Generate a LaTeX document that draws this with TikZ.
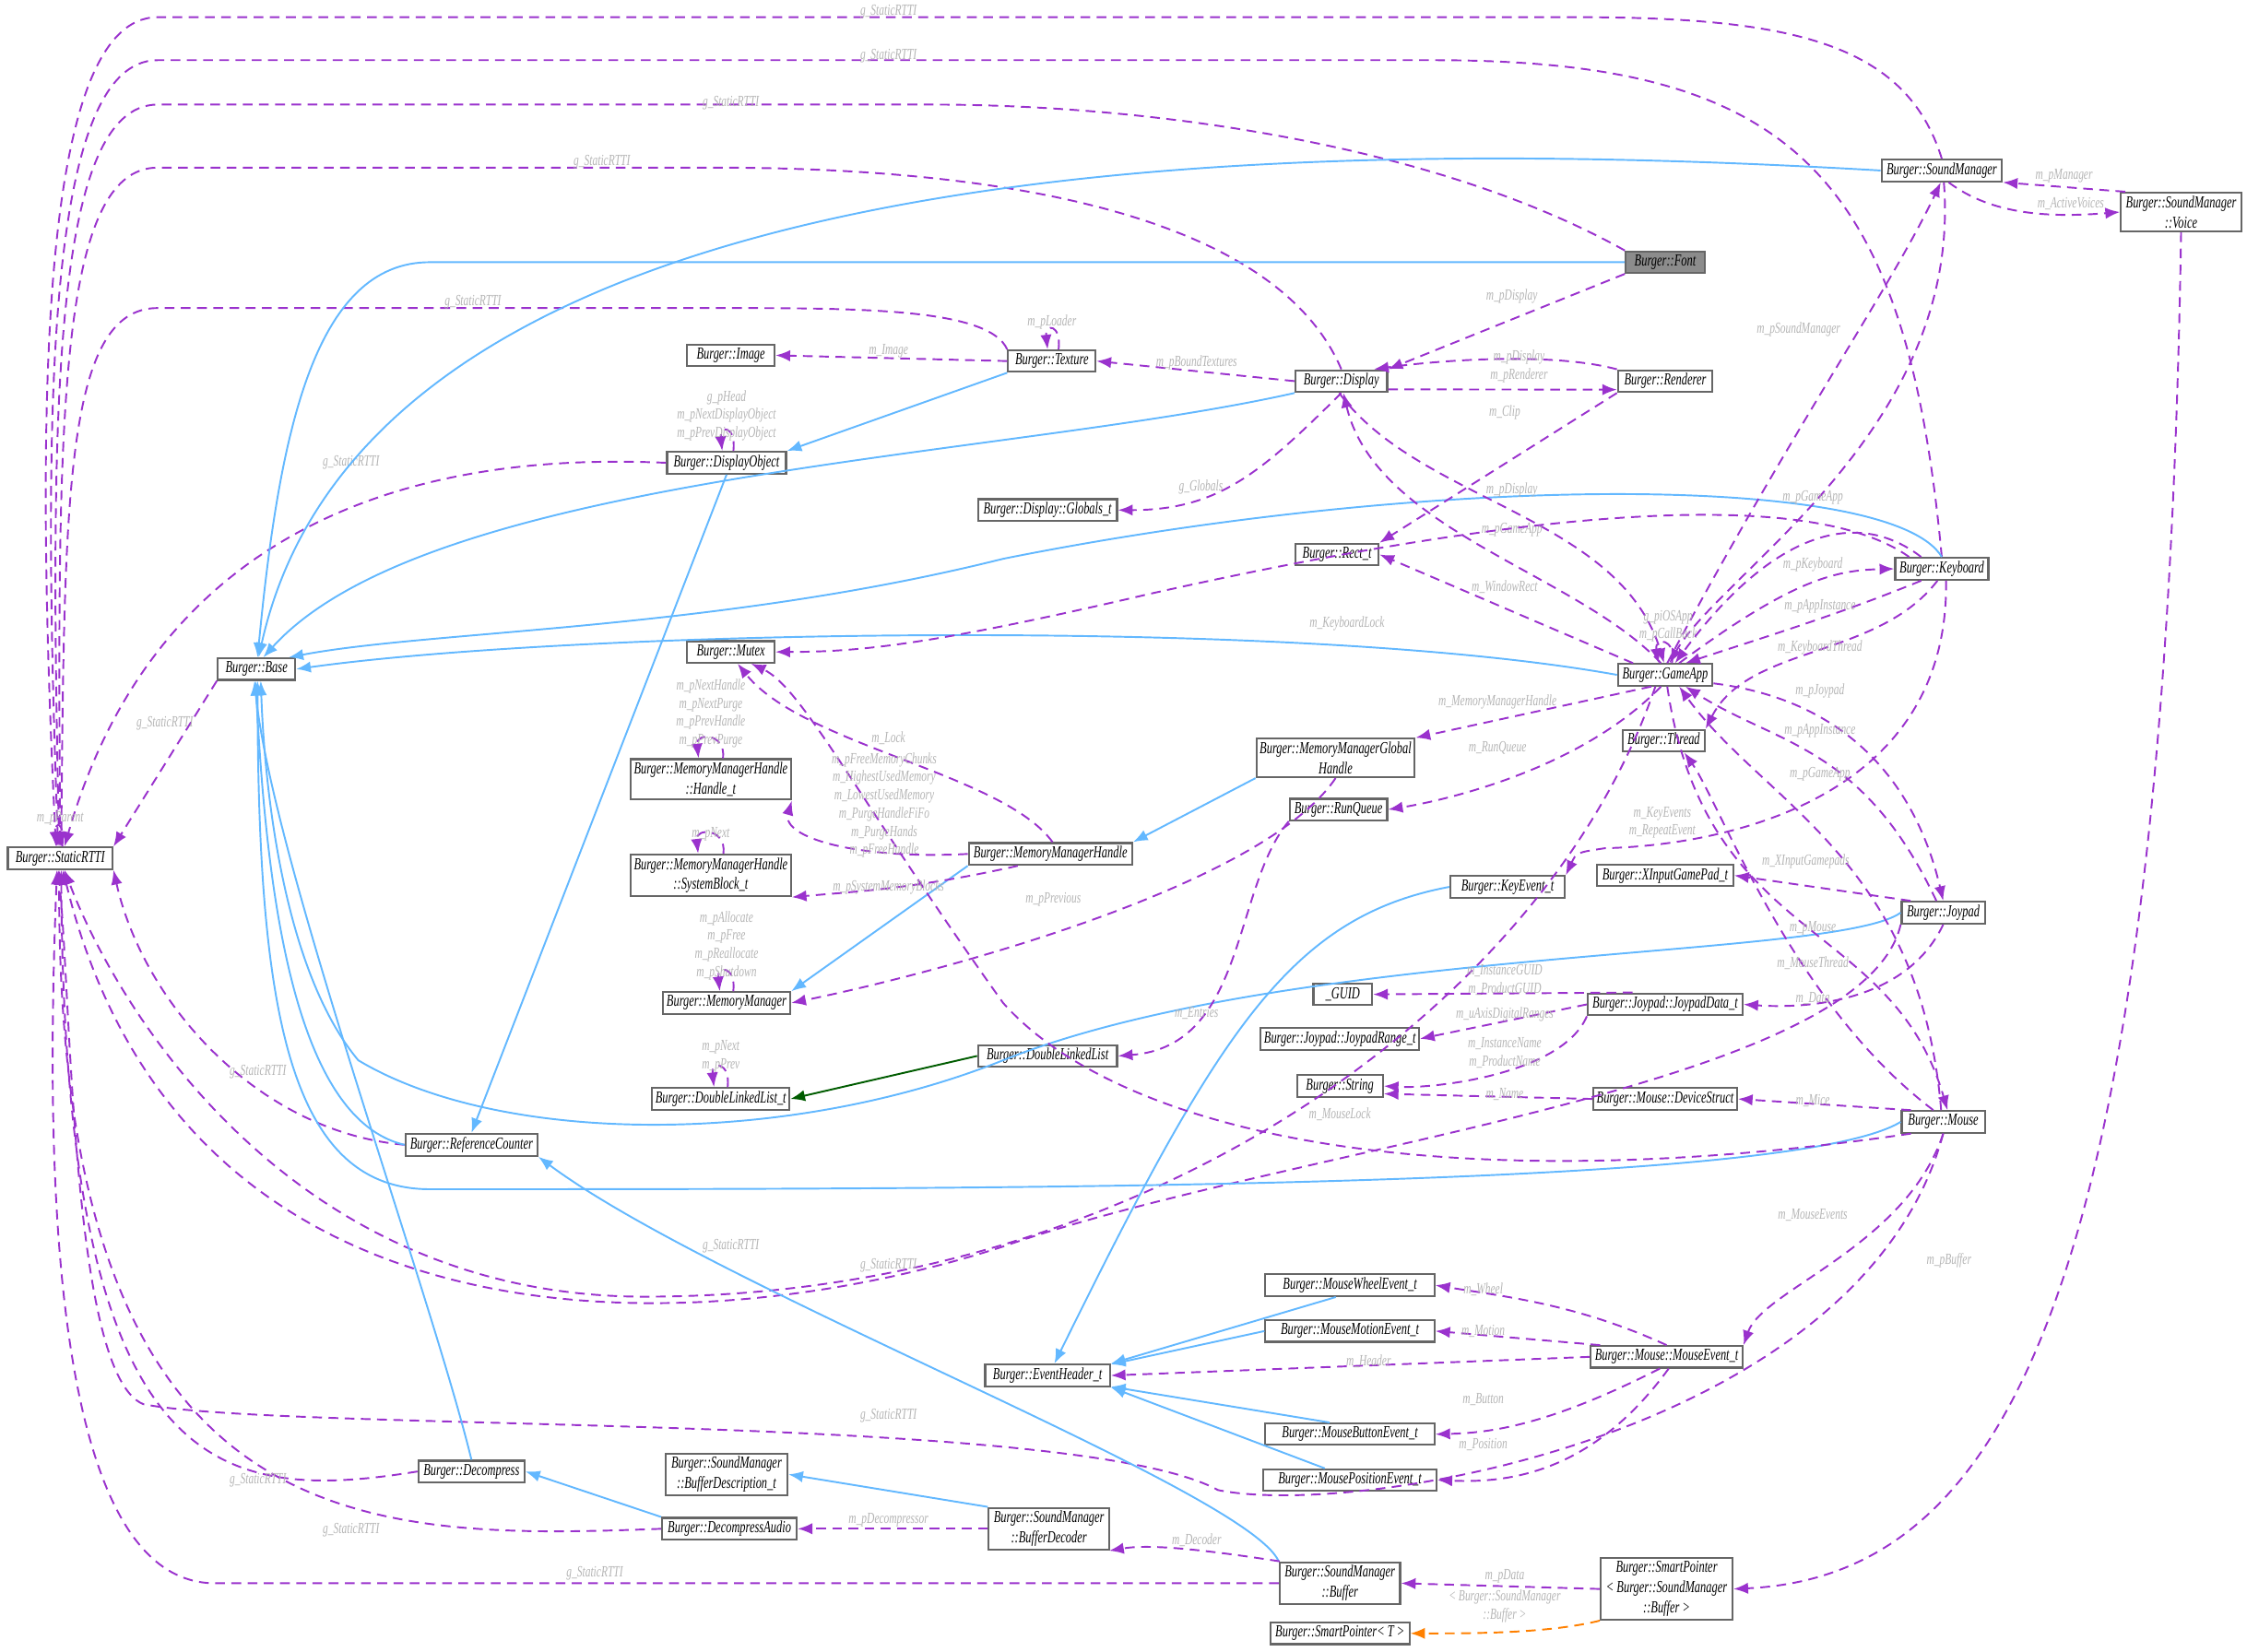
\documentclass[tikz,border=0pt]{standalone}
\usepackage{fontspec}
\setmainfont{Liberation Serif}[FakeStretch=0.68]
\usetikzlibrary{arrows.meta}
\definecolor{pp}{HTML}{9A32CD}
\definecolor{bl}{HTML}{63B8FF}
\definecolor{lg}{HTML}{B4B4B4}
\begin{document}
\begin{tikzpicture}[x=0.01554cm,y=-0.01554cm,
 cls/.style={draw=black!60,line width=0.6pt,fill=white,font=\fontsize{5.2}{6.2}\selectfont\itshape,inner sep=1pt,minimum height=15*0.01554cm,align=center},
 lbl/.style={font=\fontsize{4.8}{5.6}\selectfont\itshape,text=lg,inner sep=0pt,align=center},
 pe/.style={draw=pp,dashed,dash pattern=on 3pt off 2pt,line width=0.55pt,-{Latex[length=4.5pt,width=3.5pt]}},
 be/.style={draw=bl,line width=0.55pt,-{Latex[length=4.5pt,width=3.5pt]}},
 ge/.style={draw=black!40!green!60!black,line width=0.55pt,-{Latex[length=4.5pt,width=3.5pt]}},
 oe/.style={draw=orange,dashed,dash pattern=on 3pt off 2pt,line width=0.55pt,-{Latex[length=4.5pt,width=3.5pt]}}]
\newcommand\cls[5]{\node[cls,minimum width=#4*0.01554cm] (#1) at (#2,#3) {#5};}
\newcommand\lb[4]{\node[lbl] (#1) at (#2,#3) {#4};}
\useasboundingbox (0,0) rectangle (1568,1153);
% ---- nodes
\cls{st}{42}{599}{73}{Burger::StaticRTTI}
\cls{base}{179}{467}{54}{Burger::Base}
\node[cls,minimum width=55*0.01554cm,fill=black!45] (font) at (1162,183) {Burger::Font};
\cls{sm}{1355}{119}{84}{Burger::SoundManager}
\node[cls,minimum width=84*0.01554cm,minimum height=27*0.01554cm] (voice) at (1522,148) {Burger::SoundManager\\::Voice};
\cls{img}{510}{248}{61}{Burger::Image}
\cls{tex}{734}{252}{61}{Burger::Texture}
\cls{disp}{936}{266}{64}{Burger::Display}
\cls{rend}{1162}{266}{66}{Burger::Renderer}
\cls{dobj}{507}{323}{83}{Burger::DisplayObject}
\cls{glob}{731}{356}{97}{Burger::Display::Globals\_t}
\cls{rect}{933}{387}{58}{Burger::Rect\_t}
\cls{kb}{1355}{397}{65}{Burger::Keyboard}
\cls{mutex}{510}{455}{61}{Burger::Mutex}
\cls{ga}{1162}{471}{66}{Burger::GameApp}
\node[cls,minimum width=88*0.01554cm,minimum height=26*0.01554cm] (ht) at (496,544) {Burger::MemoryManagerHandle\\::Handle\_t};
\node[cls,minimum width=104*0.01554cm,minimum height=26*0.01554cm] (mmg) at (932,529) {Burger::MemoryManagerGlobal\\Handle};
\cls{thr}{1161}{517}{57}{Burger::Thread}
\cls{rq}{934}{565}{68}{Burger::RunQueue}
\node[cls,minimum width=88*0.01554cm,minimum height=26*0.01554cm] (sb) at (496,611) {Burger::MemoryManagerHandle\\::SystemBlock\_t};
\cls{mmh}{733}{596}{114}{Burger::MemoryManagerHandle}
\cls{ke}{1052}{619}{80}{Burger::KeyEvent\_t}
\cls{xi}{1162}{611}{95}{Burger::XInputGamePad\_t}
\cls{jp}{1356}{637}{58}{Burger::Joypad}
\cls{mm}{507}{700}{89}{Burger::MemoryManager}
\cls{guid}{937}{694}{41}{\_GUID}
\cls{jd}{1162}{701}{108}{Burger::Joypad::JoypadData\_t}
\cls{jr}{935}{725}{110}{Burger::Joypad::JoypadRange\_t}
\cls{dll}{731}{737}{97}{Burger::DoubleLinkedList}
\cls{str}{935}{758}{60}{Burger::String}
\cls{dlt}{503}{767}{94}{Burger::DoubleLinkedList\_t}
\cls{ds}{1162}{767}{100}{Burger::Mouse::DeviceStruct}
\cls{rc}{329}{799}{92}{Burger::ReferenceCounter}
\cls{ms}{1356}{783}{58}{Burger::Mouse}
\cls{mw}{942}{897}{118}{Burger::MouseWheelEvent\_t}
\cls{mmo}{942}{929}{118}{Burger::MouseMotionEvent\_t}
\cls{me}{1163}{947}{106}{Burger::Mouse::MouseEvent\_t}
\cls{eh}{731}{960}{87}{Burger::EventHeader\_t}
\cls{mb}{942}{1001}{118}{Burger::MouseButtonEvent\_t}
\cls{mp}{942}{1033}{121}{Burger::MousePositionEvent\_t}
\cls{dc}{329}{1027}{74}{Burger::Decompress}
\node[cls,minimum width=85*0.01554cm,minimum height=26*0.01554cm] (bdesc) at (507,1029) {Burger::SoundManager\\::BufferDescription\_t};
\cls{da}{509}{1067}{94}{Burger::DecompressAudio}
\node[cls,minimum width=84*0.01554cm,minimum height=26*0.01554cm] (bdec) at (732,1067) {Burger::SoundManager\\::BufferDecoder};
\node[cls,minimum width=84*0.01554cm,minimum height=26*0.01554cm] (buf) at (935,1105) {Burger::SoundManager\\::Buffer};
\node[cls,minimum width=92*0.01554cm,minimum height=35*0.01554cm] (spb) at (1163,1109) {Burger::SmartPointer\\{}< Burger::SoundManager\\::Buffer >};
\cls{spt}{935}{1140}{97}{Burger::SmartPointer< T >}
% ---- g_StaticRTTI edges (top)
\draw[pe] (sm.north) .. controls (1330,30) and (1250,12) .. (1100,12) -- (110,12) .. controls (25,12) and (25,300) .. (st.110);
\draw[pe] (kb.north) .. controls (1330,120) and (1250,42) .. (1000,42) -- (110,42) .. controls (30,42) and (30,300) .. (st.100);
\draw[pe] (font.north west) .. controls (1000,100) and (800,73) .. (650,73) -- (110,73) .. controls (35,73) and (35,300) .. (st.95);
\draw[pe] (disp.north) .. controls (890,150) and (700,117) .. (500,117) -- (110,117) .. controls (40,117) and (40,300) .. (st.90);
\draw[pe] (tex.north west) .. controls (690,215) and (600,215) .. (500,215) -- (110,215) .. controls (45,215) and (45,350) .. (st.85);
\draw[pe] (dobj.west) .. controls (350,318) and (120,330) .. (st.70);
\draw[pe] (base.south west) -- (st.north east);
\draw[pe] (st.80) .. controls +(2,-18) and +(-2,-18) .. (st.105);
\lb{l1}{620}{8}{g\_StaticRTTI} \lb{l2}{620}{39}{g\_StaticRTTI} \lb{l3}{510}{72}{g\_StaticRTTI}
\lb{l4}{420}{113}{g\_StaticRTTI} \lb{l5}{330}{211}{g\_StaticRTTI} \lb{l6}{245}{323}{g\_StaticRTTI}
\lb{l7}{115}{505}{g\_StaticRTTI} \lb{l8}{42}{571}{m\_pParent}
% ---- g_StaticRTTI edges (bottom)
\draw[pe] (rc.west) .. controls (180,790) and (100,700) .. (st.south east);
\draw[pe] (dc.west) .. controls (150,1050) and (45,1030) .. (st.275);
\draw[pe] (da.west) .. controls (250,1075) and (40,1075) .. (st.265);
\draw[pe] (buf.west) -- (150,1105) .. controls (32,1105) and (32,800) .. (st.255);
\draw[pe] (ga.230) .. controls (1080,700) and (800,905) .. (450,905) .. controls (200,905) and (80,700) .. (st.290);
\draw[pe] (jp.south west) .. controls (1300,760) and (900,800) .. (700,870) .. controls (500,935) and (130,960) .. (st.283);
\draw[pe] (ms.south) .. controls (1300,1000) and (950,1060) .. (850,1040) .. controls (750,985) and (200,1000) .. (100,980) .. controls (50,960) and (50,700) .. (st.260);
\lb{l9}{180}{748}{g\_StaticRTTI} \lb{l10}{180}{1033}{g\_StaticRTTI} \lb{l11}{245}{1068}{g\_StaticRTTI}
\lb{l12}{415}{1098}{g\_StaticRTTI} \lb{l13}{510}{870}{g\_StaticRTTI} \lb{l14}{620}{883}{g\_StaticRTTI}
\lb{l15}{620}{988}{g\_StaticRTTI}
% ---- blue inheritance
\draw[be] (sm.west) .. controls (900,95) and (260,100) .. (base.80);
\draw[be] (font.west) -- (300,183) .. controls (220,183) and (195,300) .. (base.85);
\draw[be] (disp.south west) .. controls (700,320) and (300,330) .. (base.60);
\draw[be] (kb.north) .. controls (1320,330) and (1000,330) .. (700,390) .. controls (500,440) and (300,440) .. (base.20);
\draw[be] (ga.west) .. controls (900,430) and (400,440) .. (base.east);
\draw[be] (jp.west) .. controls (1280,670) and (900,660) .. (700,740) .. controls (550,800) and (350,800) .. (250,740) .. controls (200,680) and (185,560) .. (base.290);
\draw[be] (ms.west) .. controls (1250,830) and (700,830) .. (300,830) .. controls (200,830) and (180,700) .. (base.275);
\draw[be] (rc.west) .. controls (200,780) and (185,600) .. (base.265);
\draw[be] (dc.north) .. controls (300,900) and (190,600) .. (base.260);
\draw[be] (tex.south west) -- (dobj.north east);
\draw[be] (dobj.south) -- (rc.north);
\draw[be] (ke.west) .. controls (900,640) and (850,720) .. (eh.60);
\draw[be] (mw.220) -- (eh.north east);
\draw[be] (mmo.west) -- (eh.10);
\draw[be] (mb.150) -- (eh.-10);
\draw[be] (mp.155) -- (eh.south east);
\draw[be] (mmg.south west) -- (mmh.north east);
\draw[be] (mmh.south west) -- (mm.north east);
\draw[be] (da.north west) -- (dc.east);
\draw[be] (bdec.north west) -- (bdesc.east);
\draw[be] (buf.north west) .. controls (870,1040) and (500,900) .. (rc.south east);
\draw[ge] (dll.west) -- (dlt.east);
\draw[oe] (spb.south west) .. controls (1080,1140) and (1030,1140) .. (spt.east);
\node[lbl] (l16) at (1050,1121) {< Burger::SoundManager\\::Buffer >};
% ---- purple members
\draw[pe] (voice.160) -- (sm.south east) node[lbl,pos=0.5,above,inner sep=1pt] (l17) {m\_pManager};
\draw[pe] (sm.300) .. controls (1390,150) and (1430,152) .. (voice.west);
\lb{l18}{1445}{142}{m\_ActiveVoices}
\draw[pe] (voice.south) .. controls (1510,900) and (1400,1100) .. (spb.east);
\lb{l19}{1360}{880}{m\_pBuffer}
\draw[pe] (font.south west) -- (disp.north east); \lb{l20}{1055}{207}{m\_pDisplay}
\draw[pe] (rend.north west) .. controls (1080,245) and (1000,252) .. (disp.20); \lb{l21}{1060}{249}{m\_pDisplay}
\draw[pe] (disp.-10) -- (rend.-170); \lb{l22}{1060}{262}{m\_pRenderer}
\draw[pe] (tex.60) .. controls +(2,-18) and +(-2,-18) .. (tex.110); \lb{l23}{734}{225}{m\_pLoader}
\draw[pe] (tex.west) -- (img.east); \lb{l24}{620}{245}{m\_Image}
\draw[pe] (disp.west) -- (tex.east); \lb{l25}{835}{253}{m\_pBoundTextures}
\draw[pe] (dobj.60) .. controls +(2,-18) and +(-2,-18) .. (dobj.110);
\node[lbl] (l26) at (507,290) {g\_pHead\\m\_pNextDisplayObject\\m\_pPrevDisplayObject};
\draw[pe] (disp.south) .. controls (880,330) and (850,356) .. (glob.east); \lb{l27}{838}{340}{g\_Globals}
\draw[pe] (rend.south west) -- (rect.north east); \lb{l28}{1050}{288}{m\_Clip}
\draw[pe] (ga.110) .. controls (1100,400) and (960,370) .. (disp.-80); \lb{l29}{1055}{342}{m\_pDisplay}
\draw[pe] (disp.-100) .. controls (990,350) and (1130,360) .. (ga.95); \lb{l30}{1055}{370}{m\_pGameApp}
\draw[pe] (ga.160) -- (rect.east); \lb{l31}{1050}{410}{m\_WindowRect}
\draw[pe] (ga.80) .. controls (1250,300) and (1320,200) .. (sm.265); \lb{l32}{1255}{230}{m\_pSoundManager}
\draw[pe] (sm.280) .. controls (1370,300) and (1200,400) .. (ga.70);
\draw[pe] (ga.60) .. controls +(3,-18) and +(-3,-18) .. (ga.120); \node[lbl] (l33) at (1164,437) {g\_piOSApp\\m\_pCallBack};
\draw[pe] (kb.160) .. controls (1250,330) and (1000,370) .. (800,415) .. controls (650,450) and (600,455) .. (mutex.east); \lb{l34}{940}{435}{m\_KeyboardLock}
\draw[pe] (kb.150) .. controls (1290,350) and (1230,380) .. (ga.50); \lb{l35}{1265}{347}{m\_pGameApp}
\draw[pe] (ga.40) .. controls (1250,405) and (1280,398) .. (kb.west); \lb{l36}{1265}{394}{m\_pKeyboard}
\draw[pe] (kb.210) .. controls (1280,430) and (1230,445) .. (ga.30); \lb{l37}{1270}{423}{m\_pAppInstance}
\draw[pe] (kb.250) .. controls (1310,460) and (1220,450) .. (thr.north east); \lb{l38}{1270}{452}{m\_KeyboardThread}
\draw[pe] (kb.290) .. controls (1360,560) and (1200,590) .. (1120,592) .. controls (1100,595) .. (ke.north east); \node[lbl] (l39) at (1160,574) {m\_KeyEvents\\m\_RepeatEvent};
\draw[pe] (ga.220) -- (mmg.north east); \lb{l40}{1045}{490}{m\_MemoryManagerHandle}
\draw[pe] (ga.250) .. controls (1100,540) and (1000,560) .. (rq.east); \lb{l41}{1045}{522}{m\_RunQueue}
\draw[pe] (ga.-10) .. controls (1300,490) and (1340,560) .. (jp.north); \lb{l42}{1270}{482}{m\_pJoypad}
\draw[pe] (jp.120) .. controls (1300,520) and (1240,520) .. (ga.-30); \lb{l43}{1270}{510}{m\_pAppInstance}
\draw[pe] (ms.100) .. controls (1340,600) and (1230,560) .. (ga.-40); \lb{l44}{1270}{540}{m\_pGameApp}
\draw[pe] (ga.-80) .. controls (1190,660) and (1320,640) .. (ms.70); \lb{l45}{1265}{648}{m\_pMouse}
\draw[pe] (ms.130) .. controls (1250,700) and (1200,560) .. (thr.-30); \lb{l46}{1265}{672}{m\_MouseThread}
\draw[pe] (jp.160) -- (xi.east); \lb{l47}{1260}{601}{m\_XInputGamepads}
\draw[pe] (jp.south) .. controls (1330,700) and (1260,704) .. (jd.east); \lb{l48}{1265}{697}{m\_Data}
\draw[pe] (jd.160) -- (guid.east); \node[lbl] (l49) at (1050,684) {m\_InstanceGUID\\m\_ProductGUID};
\draw[pe] (jd.west) -- (jr.east); \lb{l50}{1050}{708}{m\_uAxisDigitalRanges};
\draw[pe] (jd.south west) .. controls (1090,750) and (1000,760) .. (str.east); \node[lbl] (l51) at (1050,735) {m\_InstanceName\\m\_ProductName};
\draw[pe] (ds.west) -- (str.-10); \lb{l52}{1050}{764}{m\_Name}
\draw[pe] (ms.160) -- (ds.east); \lb{l53}{1265}{768}{m\_Mice}
\draw[pe] (ms.200) .. controls (1000,840) and (780,790) .. (700,700) .. controls (600,560) and (560,480) .. (mutex.-30); \lb{l54}{935}{778}{m\_MouseLock}
\draw[pe] (mmh.80) .. controls (700,540) and (560,520) .. (mutex.-60); \lb{l55}{620}{515}{m\_Lock}
\draw[pe] (ht.60) .. controls +(2,-18) and +(-2,-18) .. (ht.120); \node[lbl] (l56) at (496,498) {m\_pNextHandle\\m\_pNextPurge\\m\_pPrevHandle\\m\_pPrevPurge};
\draw[pe] (mmh.west) .. controls (600,600) and (545,585) .. (ht.south east); \node[lbl] (l57) at (617,562) {m\_pFreeMemoryChunks\\m\_HighestUsedMemory\\m\_LowestUsedMemory\\m\_PurgeHandleFiFo\\m\_PurgeHands\\m\_pFreeHandle};
\draw[pe] (sb.60) .. controls +(2,-18) and +(-2,-18) .. (sb.120); \lb{l58}{496}{582}{m\_pNext}
\draw[pe] (mmh.200) .. controls (640,620) and (600,622) .. (sb.-15); \lb{l59}{620}{619}{m\_pSystemMemoryBlocks}
\draw[pe] (mmg.south) .. controls (880,620) and (650,680) .. (mm.east); \lb{l60}{735}{628}{m\_pPrevious}
\draw[pe] (mm.60) .. controls +(2,-18) and +(-2,-18) .. (mm.120); \node[lbl] (l61) at (507,660) {m\_pAllocate\\m\_pFree\\m\_pReallocate\\m\_pShutdown};
\draw[pe] (dlt.60) .. controls +(2,-18) and +(-2,-18) .. (dlt.120); \node[lbl] (l62) at (503,737) {m\_pNext\\m\_pPrev};
\draw[pe] (rq.south west) .. controls (860,620) and (870,730) .. (dll.east); \lb{l63}{835}{707}{m\_Entries}
\draw[pe] (ms.south) .. controls (1330,870) and (1230,900) .. (me.north east); \lb{l64}{1265}{848}{m\_MouseEvents}
\draw[pe] (me.north) .. controls (1100,910) and (1050,905) .. (mw.east); \lb{l65}{1035}{900}{m\_Wheel}
\draw[pe] (me.170) -- (mmo.east); \lb{l66}{1035}{929}{m\_Motion}
\draw[pe] (me.west) -- (eh.east); \lb{l67}{955}{950}{m\_Header}
\draw[pe] (me.240) .. controls (1080,995) and (1040,1000) .. (mb.east); \lb{l68}{1035}{977}{m\_Button}
\draw[pe] (me.-80) .. controls (1110,1030) and (1050,1035) .. (mp.east); \lb{l69}{1035}{1008}{m\_Position}
\draw[pe] (bdec.west) -- (da.east); \lb{l70}{620}{1061}{m\_pDecompressor}
\draw[pe] (buf.160) .. controls (830,1080) and (800,1078) .. (bdec.-20); \lb{l71}{835}{1075}{m\_Decoder}
\draw[pe] (spb.west) -- (buf.east); \lb{l72}{1050}{1100}{m\_pData}
\end{tikzpicture}
\end{document}
